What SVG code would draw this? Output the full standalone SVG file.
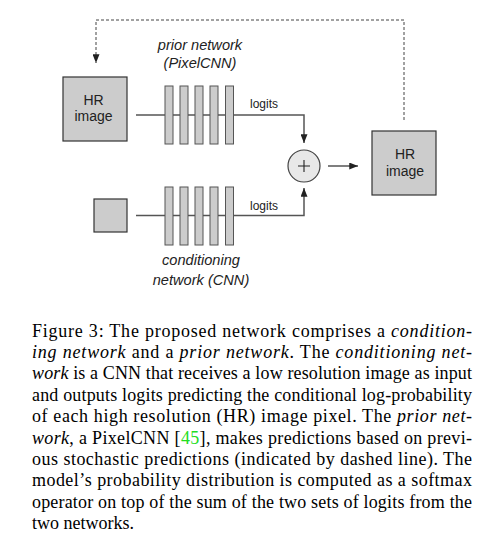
<svg xmlns="http://www.w3.org/2000/svg" width="497" height="545" viewBox="0 0 497 545">
<style>
.box{fill:#cccccc;stroke:#333;stroke-width:1.2}
.bar{fill:#cccccc;stroke:#555;stroke-width:1}
.lbl{font-family:"Liberation Sans",Arial,sans-serif;font-size:14px;fill:#222;text-anchor:middle}
.net{font-family:"Liberation Sans",Arial,sans-serif;font-size:14.6px;font-style:italic;fill:#222;text-anchor:middle}
.lg{font-family:"Liberation Sans",Arial,sans-serif;font-size:12px;fill:#222}
.conn{fill:none;stroke:#555;stroke-width:1.5}
.dash{fill:none;stroke:#444;stroke-width:1;stroke-dasharray:3 2}
.cap{font-family:"Liberation Serif","Times New Roman",serif;font-size:18px;fill:#000;white-space:pre}
.it{font-style:italic}
</style>
<defs>
<marker id="ah" viewBox="0 0 10 8" refX="10" refY="4" markerWidth="10" markerHeight="7" markerUnits="userSpaceOnUse" orient="auto">
<path d="M0 0L10 4L0 8z" fill="#222"/>
</marker>
</defs>
<g id="connectors">
<path class="conn" d="M136 115H304V143" marker-end="url(#ah)"/>
<path class="conn" d="M136 215.5H304V188" marker-end="url(#ah)"/>
<path class="conn" d="M328 166H358" marker-end="url(#ah)"/>
<path class="dash" d="M404 120V20H96V63" marker-end="url(#ah)"/>
<text class="lg" x="250" y="108">logits</text>
<text class="lg" x="250" y="210">logits</text>
</g>
<g id="hr-input">
<rect class="box" x="63" y="77" width="64" height="64"/>
<text class="lbl" x="93.5" y="104.5">HR</text>
<text class="lbl" x="93.5" y="121">image</text>
</g>
<g id="prior-network">
<rect class="bar" x="165" y="86" width="8" height="58"/>
<rect class="bar" x="180" y="86" width="8" height="58"/>
<rect class="bar" x="195" y="86" width="8" height="58"/>
<rect class="bar" x="210" y="86" width="8" height="58"/>
<rect class="bar" x="225.5" y="86" width="8" height="58"/>
<text class="net" x="200" y="50">prior network</text>
<text class="net" x="200" y="68">(PixelCNN)</text>
</g>
<g id="lr-input">
<rect class="box" x="94" y="199" width="33" height="33"/>
</g>
<g id="conditioning-network">
<rect class="bar" x="165" y="187" width="8" height="58"/>
<rect class="bar" x="180" y="187" width="8" height="58"/>
<rect class="bar" x="195" y="187" width="8" height="58"/>
<rect class="bar" x="210" y="187" width="8" height="58"/>
<rect class="bar" x="225.5" y="187" width="8" height="58"/>
<text class="net" x="201" y="265">conditioning</text>
<text class="net" x="201" y="285">network (CNN)</text>
</g>
<g id="sum">
<circle cx="304" cy="166" r="16" fill="#e8e8e8" stroke="#444" stroke-width="1.2"/>
<path d="M298 166H310M304 160V172" stroke="#222" stroke-width="1.1"/>
</g>
<g id="hr-output">
<rect class="box" x="372" y="131" width="64" height="64"/>
<text class="lbl" x="405" y="159">HR</text>
<text class="lbl" x="405" y="176">image</text>
</g>
<g id="caption" class="cap">
<text x="32" y="336.5" textLength="440" lengthAdjust="spacing">Figure 3:  The proposed network comprises a <tspan class="it">condition-</tspan></text>
<text x="32" y="357.9" textLength="440" lengthAdjust="spacing"><tspan class="it">ing network</tspan> and a <tspan class="it">prior network</tspan>.  The <tspan class="it">conditioning net-</tspan></text>
<text x="32" y="379.3" textLength="440" lengthAdjust="spacing"><tspan class="it">work</tspan> is a CNN that receives a low resolution image as input</text>
<text x="32" y="400.7" textLength="440" lengthAdjust="spacing">and outputs logits predicting the conditional log-probability</text>
<text x="32" y="422.1" textLength="440" lengthAdjust="spacing">of each high resolution (HR) image pixel.  The <tspan class="it">prior net-</tspan></text>
<text x="32" y="443.5" textLength="440" lengthAdjust="spacing"><tspan class="it">work</tspan>, a PixelCNN [<tspan fill="#22dd22">45</tspan>], makes predictions based on previ-</text>
<text x="32" y="464.9" textLength="440" lengthAdjust="spacing">ous stochastic predictions (indicated by dashed line).  The</text>
<text x="32" y="486.3" textLength="440" lengthAdjust="spacing">model’s probability distribution is computed as a softmax</text>
<text x="32" y="507.7" textLength="440" lengthAdjust="spacing">operator on top of the sum of the two sets of logits from the</text>
<text x="32" y="529.1">two networks.</text>
</g>
</svg>
